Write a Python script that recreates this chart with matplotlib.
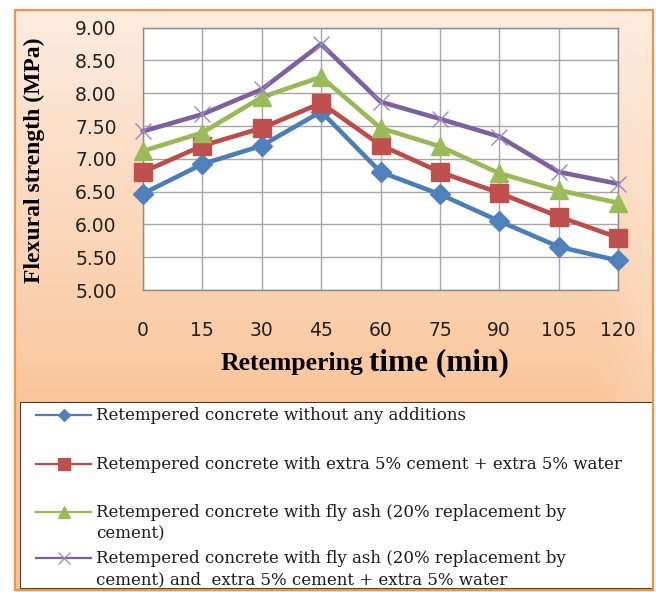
import matplotlib
matplotlib.use("Agg")
import matplotlib.pyplot as plt
import numpy as np
from matplotlib.patches import Rectangle
from matplotlib.lines import Line2D
from matplotlib.ticker import FormatStrFormatter

# ---------------- data ----------------
time_min = [0, 15, 30, 45, 60, 75, 90, 105, 120]
no_additions = [6.47, 6.92, 7.20, 7.72, 6.80, 6.46, 6.05, 5.66, 5.45]
extra_cement_water = [6.80, 7.20, 7.47, 7.85, 7.21, 6.80, 6.48, 6.12, 5.80]
fly_ash = [7.12, 7.40, 7.94, 8.25, 7.47, 7.19, 6.78, 6.52, 6.33]
fly_ash_extra = [7.42, 7.68, 8.06, 8.75, 7.87, 7.61, 7.34, 6.80, 6.62]
y_ticks = [5.00, 5.50, 6.00, 6.50, 7.00, 7.50, 8.00, 8.50, 9.00]
series_labels = [
    "Retempered concrete without any additions",
    "Retempered concrete with extra 5% cement + extra 5% water",
    "Retempered concrete with fly ash (20% replacement by\ncement)",
    "Retempered concrete with fly ash (20% replacement by\ncement) and  extra 5% cement + extra 5% water",
]

W, H = 656, 592
fig = plt.figure(figsize=(W / 100, H / 100), dpi=100)
fig.patch.set_facecolor("white")


def fx(px):
    return px / W


def fy(py):
    return 1 - py / H


# ---------------- background frame ----------------
bg = fig.add_axes([0, 0, 1, 1], zorder=-5)
bg.set_xlim(0, W)
bg.set_ylim(H, 0)
bg.axis("off")
top = np.array([0xFD, 0xEC, 0xDF]) / 255
bot = np.array([0xFA, 0xC4, 0x98]) / 255
ny, nx = 200, 200
yy = np.linspace(0, 1, ny)[:, None]
xx = np.linspace(0, 1, nx)[None, :]
t = np.clip(yy * 1.4, 0, 1) * (1 - 0.3 * np.clip((xx - 0.9) / 0.1, 0, 1) ** 1.5)
grad = top[None, None, :] + (bot - top)[None, None, :] * t[:, :, None]
bg.imshow(grad, extent=[15, 653, 590, 10], aspect="auto", interpolation="bilinear", zorder=0)
bg.add_patch(Rectangle((15, 10), 638, 580, fill=False, edgecolor="#F0924A", lw=1.6, zorder=3))
bg.add_patch(Rectangle((20, 402), 633, 186, facecolor="white", edgecolor="#4A3A34", lw=0.8, zorder=2))

# ---------------- main axes ----------------
x0, x1, y0, y1 = 143, 618, 27.7, 290
ax = fig.add_axes([fx(x0), fy(y1), (x1 - x0) / W, (y1 - y0) / H])
ax.set_facecolor("white")

styles = [
    dict(color="#4A7EBB", marker="D", markersize=10, markerfacecolor="#4F81BD", markeredgecolor="#4F81BD"),
    dict(color="#BE4B48", marker="s", markersize=12.5, markerfacecolor="#C0504D", markeredgecolor="#C0504D"),
    dict(color="#98B954", marker="^", markersize=13.5, markerfacecolor="#9BBB59", markeredgecolor="#9BBB59"),
    dict(color="#7D60A0", marker="x", markersize=12, markeredgecolor="#9A88C4", markeredgewidth=1.0),
]
series = [no_additions, extra_cement_water, fly_ash, fly_ash_extra]
lines = []
for vals, st in zip(series, styles):
    (ln,) = ax.plot(time_min, vals, lw=3.3, clip_on=False, zorder=3, **st)
    lines.append(ln)

ax.set_xlim(0, 120)
ax.set_ylim(5, 9)
ax.set_xticks(time_min)
ax.set_yticks(y_ticks)
ax.yaxis.set_major_formatter(FormatStrFormatter("%.2f"))
ax.grid(True, color="#A6A6A6", lw=1.0)
ax.set_axisbelow(True)
for s in ax.spines.values():
    s.set_color("#8C8C8C")
    s.set_linewidth(1.0)
ax.tick_params(axis="both", length=0, labelsize=13.5, labelcolor="#222222")
ax.tick_params(axis="y", pad=19)
ax.tick_params(axis="x", pad=22)
for lab in ax.get_xticklabels() + ax.get_yticklabels():
    lab.set_family("DejaVu Sans")

ax.set_ylabel("Flexural strength (MPa)", family="Liberation Serif", fontweight="bold", fontsize=17)
ax.yaxis.set_label_coords((45 - x0) / (x1 - x0), (y1 - 160) / (y1 - y0))

fig.text(fx(363), fy(370), "Retempering", ha="right", va="baseline",
         family="Liberation Serif", fontweight="bold", fontsize=18.5)
fig.text(fx(369), fy(370), "time (min)", ha="left", va="baseline",
         family="Liberation Serif", fontweight="bold", fontsize=22.5)

# ---------------- legend (manual, Excel-like layout) ----------------
leg = fig.add_axes([0, 0, 1, 1], zorder=5)
leg.set_xlim(0, W)
leg.set_ylim(H, 0)
leg.axis("off")
row_y = [415, 464, 512, 558]
leg_ms = [6.5, 8.5, 8.5, 8]
for ln, lab, ry, ms in zip(lines, series_labels, row_y, leg_ms):
    h = Line2D([36, 91], [ry, ry], color=ln.get_color(), lw=1.6)
    leg.add_line(h)
    m = Line2D([63.5], [ry], marker=ln.get_marker(), markersize=ms, linestyle="none",
               markerfacecolor=ln.get_markerfacecolor(), markeredgecolor=ln.get_markeredgecolor(),
               markeredgewidth=0.9)
    leg.add_line(m)
    for i, part in enumerate(lab.split("\n")):
        leg.text(96, ry + 21 * i + 5, part, ha="left", va="baseline",
                 family="DejaVu Serif", fontsize=12, color="#1a1a1a")

fig.savefig("out.png", dpi=100)
